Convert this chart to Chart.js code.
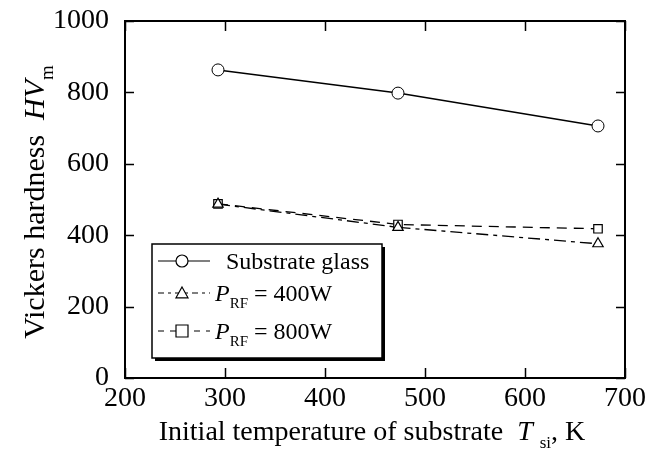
<!DOCTYPE html>
<html>
<head>
<meta charset="utf-8">
<script src="https://cdn.jsdelivr.net/npm/chart.js@4.4.1/dist/chart.umd.min.js"></script>
<style>
  html, body { margin: 0; padding: 0; background: #fff; }
  #wrap { width: 667px; height: 450px; position: relative; }
</style>
</head>
<body>
<div id="wrap"><canvas id="chart"></canvas></div>
<script>
// data
const temps = [293, 473, 673];
const glass = [863, 798, 706];
const rf400 = [487, 422, 376];
const rf800 = [488, 430, 418];
const xTicks = [200, 300, 400, 500, 600, 700];
const yTicks = [0, 200, 400, 600, 800, 1000];

const SERIF = "'Liberation Serif', 'Times New Roman', serif";

function pts(vals) {
    return temps.map((t, i) => ({ x: t, y: vals[i] }));
}

// draw a run of pieces: [text, style] where style: 'n' normal, 'i' italic, 's' subscript
function drawRich(ctx, pieces, x, y, size) {
    pieces.forEach(p => {
        let fs = size, dy = 0, st = '';
        if (p[1] === 'i') st = 'italic ';
        if (p[1] === 's') { fs = Math.round(size * 0.62); dy = size * 0.3; }
        ctx.font = st + fs + 'px ' + SERIF;
        ctx.fillText(p[0], x, y + dy);
        x += ctx.measureText(p[0]).width;
    });
}

function richWidth(ctx, pieces, size) {
    let w = 0;
    pieces.forEach(p => {
        let fs = p[1] === 's' ? Math.round(size * 0.62) : size;
        ctx.font = (p[1] === 'i' ? 'italic ' : '') + fs + 'px ' + SERIF;
        w += ctx.measureText(p[0]).width;
    });
    return w;
}

function drawMarker(ctx, style, x, y, r) {
    ctx.beginPath();
    if (style === 'circle') {
        ctx.arc(x, y, r, 0, Math.PI * 2);
    } else if (style === 'triangle') {
        ctx.moveTo(x, y - r);
        ctx.lineTo(x + r, y + r * 0.8);
        ctx.lineTo(x - r, y + r * 0.8);
        ctx.closePath();
    } else {
        ctx.rect(x - r, y - r, r * 2, r * 2);
    }
    ctx.fillStyle = '#fff';
    ctx.fill();
    ctx.stroke();
}

// no label overhang padding, plot box is fixed
function noPad(s) {
    s.paddingTop = 0; s.paddingBottom = 0;
    s.paddingLeft = 0; s.paddingRight = 0;
}

const framePlugin = {
    id: 'frame',
    afterDatasetsDraw(chart) {
        const ctx = chart.ctx;
        const a = chart.chartArea;
        const xs = chart.scales.x, ys = chart.scales.y;
        ctx.save();
        ctx.strokeStyle = '#000';
        ctx.lineWidth = 2;
        ctx.strokeRect(a.left, a.top, a.right - a.left, a.bottom - a.top);
        ctx.lineWidth = 1.5;
        ctx.beginPath();
        xs.ticks.forEach(t => {
            const px = Math.round(xs.getPixelForValue(t.value)) + 0.5;
            ctx.moveTo(px, a.bottom); ctx.lineTo(px, a.bottom - 10);
            ctx.moveTo(px, a.top); ctx.lineTo(px, a.top + 10);
        });
        ys.ticks.forEach(t => {
            const py = Math.round(ys.getPixelForValue(t.value)) + 0.5;
            ctx.moveTo(a.left, py); ctx.lineTo(a.left + 9, py);
            ctx.moveTo(a.right, py); ctx.lineTo(a.right - 9, py);
        });
        ctx.stroke();
        ctx.restore();
    },
    afterDraw(chart) {
        const ctx = chart.ctx;
        ctx.save();
        ctx.fillStyle = '#000';
        ctx.textBaseline = 'alphabetic';

        // x axis title
        const xt = [['Initial temperature of substrate  ', 'n'], ['T', 'i'], [' ', 'n'], ['si', 's'], [', K', 'n']];
        const xw = richWidth(ctx, xt, 28);
        drawRich(ctx, xt, 372 - xw / 2, 440, 28);

        // y axis title
        ctx.save();
        ctx.translate(44, 202);
        ctx.rotate(-Math.PI / 2);
        const yt = [['Vickers hardness  ', 'n'], ['HV', 'i'], ['m', 's']];
        const yw = richWidth(ctx, yt, 30);
        drawRich(ctx, yt, -yw / 2, 0, 30);
        ctx.restore();

        // legend box
        const bx = 152, by = 244, bw = 230, bh = 114;
        ctx.fillStyle = '#000';
        ctx.fillRect(bx + 3, by + 3, bw, bh);
        ctx.fillStyle = '#fff';
        ctx.fillRect(bx, by, bw, bh);
        ctx.strokeStyle = '#000';
        ctx.lineWidth = 1.5;
        ctx.strokeRect(bx, by, bw, bh);

        const rows = [
            { y: 261, style: 'circle', dash: [], text: [['Substrate glass', 'n']] },
            { y: 293, style: 'triangle', dash: [6, 4, 3, 4], text: [['P', 'i'], ['RF', 's'], [' = 400W', 'n']] },
            { y: 331, style: 'rect', dash: [6, 6], text: [['P', 'i'], ['RF', 's'], [' = 800W', 'n']] }
        ];
        rows.forEach(r => {
            ctx.strokeStyle = '#000';
            ctx.lineWidth = 1.2;
            ctx.setLineDash(r.dash);
            ctx.beginPath();
            ctx.moveTo(158, r.y); ctx.lineTo(210, r.y);
            ctx.stroke();
            ctx.setLineDash([]);
            drawMarker(ctx, r.style, 182, r.y, 6);
            ctx.fillStyle = '#000';
            drawRich(ctx, r.text, r.style === 'circle' ? 226 : 215, r.y + 8, 24);
        });
        ctx.restore();
    }
};

const ctx = document.getElementById('chart').getContext('2d');
const chart = new Chart(ctx, {
    type: 'line',
    data: {
        datasets: [
            {
                label: 'Substrate glass',
                data: pts(glass),
                borderColor: '#000',
                borderWidth: 1.5,
                pointStyle: 'circle',
                pointRadius: 6,
                pointBorderWidth: 1,
                pointBorderColor: '#000',
                pointBackgroundColor: '#fff'
            },
            {
                label: 'P_RF = 400W',
                data: pts(rf400),
                borderColor: '#000',
                borderWidth: 1.3,
                borderDash: [12, 5, 4, 5],
                pointStyle: 'triangle',
                pointRadius: 6,
                pointBorderWidth: 1.2,
                pointBorderColor: '#000',
                pointBackgroundColor: '#fff'
            },
            {
                label: 'P_RF = 800W',
                data: pts(rf800),
                borderColor: '#000',
                borderWidth: 1.3,
                borderDash: [10, 7],
                pointStyle: 'rect',
                pointRadius: 6,
                pointBorderWidth: 1.2,
                pointBorderColor: '#000',
                pointBackgroundColor: '#fff'
            }
        ]
    },
    options: {
        responsive: true,
        maintainAspectRatio: false,
        animation: false,
        layout: { padding: { top: 21, right: 42, left: 0, bottom: 0 } },
        plugins: {
            legend: { display: false },
            tooltip: { enabled: false }
        },
        scales: {
            x: {
                type: 'linear',
                min: 200,
                max: 700,
                afterBuildTicks: s => { s.ticks = xTicks.map(v => ({ value: v })); },
                afterFit: s => { s.height = 72; noPad(s); },
                grid: { display: false, drawTicks: false },
                border: { display: false },
                ticks: { color: '#000', padding: 4, callback: v => String(v), font: { family: SERIF, size: 28 } }
            },
            y: {
                type: 'linear',
                min: 0,
                max: 1000,
                afterBuildTicks: s => { s.ticks = yTicks.map(v => ({ value: v })); },
                afterFit: s => { s.width = 125; noPad(s); },
                grid: { display: false, drawTicks: false },
                border: { display: false },
                ticks: { color: '#000', padding: 16, callback: v => String(v), font: { family: SERIF, size: 28 } }
            }
        }
    },
    plugins: [framePlugin]
});
</script>
</body>
</html>
